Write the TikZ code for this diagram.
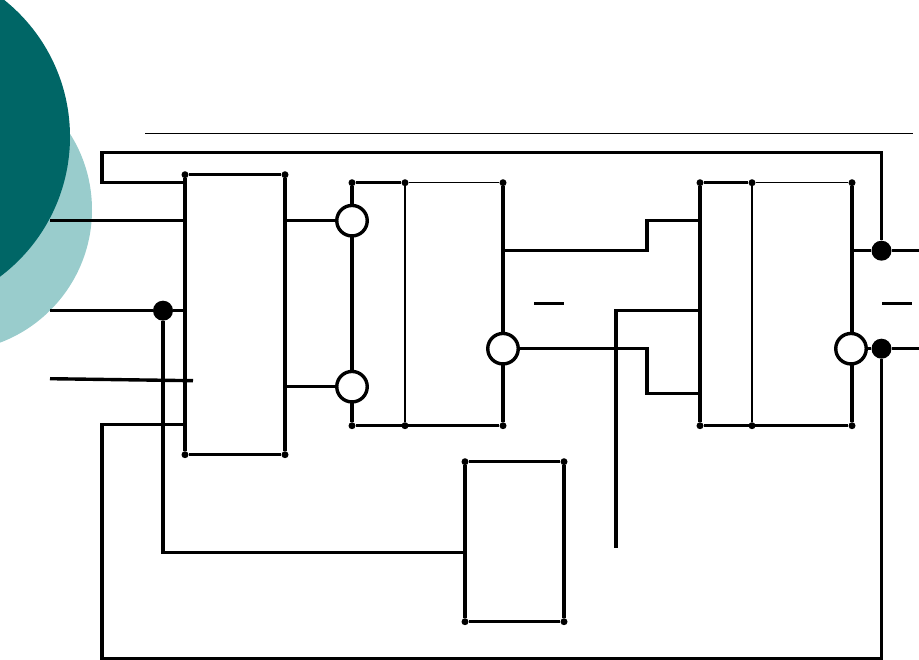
\documentclass[tikz,border=0pt]{standalone}
\definecolor{darkteal}{RGB}{0,102,102}
\definecolor{lightteal}{RGB}{153,204,204}
\tikzstyle{wire}=[draw=black,line width=3.4pt,miter limit=10]
\tikzstyle{thinwire}=[draw=black,line width=1.2pt]
\tikzstyle{cdot}=[circle,minimum size=7pt,inner sep=0pt,fill=black]
\tikzstyle{junc}=[circle,minimum size=20pt,inner sep=0pt,fill=black]
\tikzstyle{inv}=[circle,minimum size=30.5pt,inner sep=0pt,draw=black,line width=3.4pt,fill=white]

\begin{document}
\begin{tikzpicture}[x=1pt,y=-1pt]
        \useasboundingbox (0,-0.7) rectangle (919,659.3);
        \clip (0,-0.7) rectangle (919,659.3);
        \fill[lightteal] (-50,209) circle (142);
        \fill[darkteal] (-105,136) circle (175);
        %
        \coordinate (ruleL) at (145,133);
        \coordinate (ruleR) at (913,133);
        \draw[thinwire] (ruleL) -- (ruleR);
        % boxes
        \draw (185,174) node[cdot](a1){};
        \draw (285,174) node[cdot](a2){};
        \draw (285,454) node[cdot](a3){};
        \draw (185,454) node[cdot](a4){};
        \draw (352,182) node[cdot](b1){};
        \draw (405,182) node[cdot](b2){};
        \draw (503,182) node[cdot](b3){};
        \draw (503,425) node[cdot](b4){};
        \draw (405,425) node[cdot](b5){};
        \draw (352,425) node[cdot](b6){};
        \draw (700,182) node[cdot](c1){};
        \draw (752,182) node[cdot](c2){};
        \draw (852,182) node[cdot](c3){};
        \draw (852,425) node[cdot](c4){};
        \draw (752,425) node[cdot](c5){};
        \draw (700,425) node[cdot](c6){};
        \draw (465,461) node[cdot](d1){};
        \draw (564,461) node[cdot](d2){};
        \draw (564,621) node[cdot](d3){};
        \draw (465,621) node[cdot](d4){};
        %
        \path
            (a1)     edge[wire]     (a2)
            (a2)     edge[wire]     (a3)
            (a3)     edge[wire]     (a4)
            (a4)     edge[wire]     (a1)
            (b1)     edge[wire]     (b2)
            (b2)     edge[thinwire] (b3)
            (b3)     edge[wire]     (b4)
            (b4)     edge[wire]     (b6)
            (b6)     edge[wire]     (b1)
            (b2)     edge[thinwire] (b5)
            (c1)     edge[wire]     (c2)
            (c2)     edge[thinwire] (c3)
            (c3)     edge[wire]     (c4)
            (c4)     edge[wire]     (c6)
            (c6)     edge[wire]     (c1)
            (c2)     edge[thinwire] (c5)
            (d1)     edge[wire]     (d2)
            (d2)     edge[wire]     (d3)
            (d3)     edge[wire]     (d4)
            (d4)     edge[wire]     (d1)
        ;
        % pins
        \coordinate (in1) at (50,220);
        \coordinate (in2) at (50,310);
        \coordinate (in3) at (50,378);
        \coordinate (in3e) at (193,380);
        \coordinate (a_in1) at (185,220);
        \coordinate (a_in2) at (185,310);
        \coordinate (a_fbT) at (185,182);
        \coordinate (a_fbB) at (185,424);
        \coordinate (a_o1) at (285,220);
        \coordinate (a_o2) at (285,386);
        \coordinate (b_q) at (503,250);
        \coordinate (c_j) at (700,220);
        \coordinate (c_k) at (700,393);
        \coordinate (c_r) at (700,310);
        \coordinate (c_q) at (852,250);
        \coordinate (d_in) at (465,552);
        \coordinate (clkE) at (616,547);
        \coordinate (outQ) at (919,250);
        \coordinate (outN) at (919,348);
        \coordinate (barL1) at (534,303);
        \coordinate (barR1) at (564,303);
        \coordinate (barL2) at (882,303);
        \coordinate (barR2) at (912,303);
        % inverters and junctions
        \draw (352,220) node[inv](i1){};
        \draw (352,386) node[inv](i2){};
        \draw (503,348) node[inv](i3){};
        \draw (851,348) node[inv](i4){};
        \draw (163,310) node[junc](j1){};
        \draw (881.5,250) node[junc](j2){};
        \draw (881.5,348) node[junc](j3){};
        %
        \draw[wire] (a_fbT) -- (102,182) -- (102,152) -- (881.5,152) -- (j2);
        \draw[wire] (a_fbB) -- (102,424) -- (102,658) -- (881.5,658) -- (j3);
        \draw[wire] (j1) |- (d_in);
        \draw[wire] (b_q) -- (647,250) -- (647,220) -- (c_j);
        \draw[wire] (i3) -- (647,348) -- (647,393) -- (c_k);
        \draw[wire] (clkE) -- (616,310) -- (c_r);
        %
        \path
            (in1)    edge[wire]     (a_in1)
            (in2)    edge[wire]     (j1)
            (j1)     edge[wire]     (a_in2)
            (in3)    edge[wire]     (in3e)
            (a_o1)   edge[wire]     (i1)
            (a_o2)   edge[wire]     (i2)
            (c_q)    edge[wire]     (j2)
            (j2)     edge[wire]     (outQ)
            (i4)     edge[wire]     (j3)
            (j3)     edge[wire]     (outN)
            (barL1)  edge[wire]     (barR1)
            (barL2)  edge[wire]     (barR2)
        ;
\end{tikzpicture}
\end{document}
